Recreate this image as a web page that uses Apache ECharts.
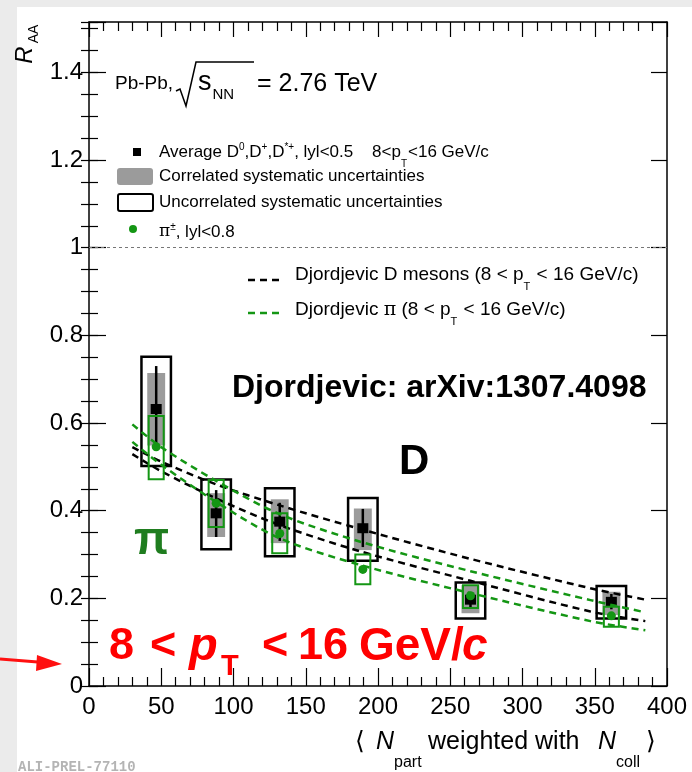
<!DOCTYPE html>
<html>
<head>
<meta charset="utf-8">
<script src="https://cdn.jsdelivr.net/npm/echarts@6/dist/echarts.min.js"></script>
<style>
  html, body { margin: 0; padding: 0; background: #fff; }
  #chart { width: 692px; height: 772px; }
</style>
</head>
<body>
<div id="chart"></div>
<script>
// <Npart> weighted with Ncoll, one entry per centrality class
const npart = [46.5, 88, 132, 189.5, 264, 361.5];

// average D0, D+, D*+ RAA (8 < pT < 16 GeV/c)
const dRaa    = [0.632, 0.394, 0.375, 0.360, 0.197, 0.192];
const dStatLo = [0.538, 0.340, 0.331, 0.317, 0.180, 0.175];
const dStatHi = [0.730, 0.447, 0.418, 0.404, 0.213, 0.210];
const dCorrLo = [0.549, 0.340, 0.326, 0.310, 0.166, 0.162];
const dCorrHi = [0.714, 0.440, 0.426, 0.405, 0.230, 0.215];
const dUncLo  = [0.502, 0.312, 0.296, 0.286, 0.154, 0.154];
const dUncHi  = [0.751, 0.471, 0.451, 0.429, 0.236, 0.228];

// charged pions |y| < 0.8
const piRaa   = [0.546, 0.417, 0.348, 0.266, 0.206, 0.160];
const piSysLo = [0.472, 0.363, 0.303, 0.232, 0.178, 0.135];
const piSysHi = [0.616, 0.470, 0.394, 0.300, 0.230, 0.181];

// Djordjevic model bands
const modelX = [30, 50, 88, 132, 189, 264, 347, 385];
const djDHi  = [0.545, 0.512, 0.460, 0.412, 0.357, 0.290, 0.223, 0.197];
const djDLo  = [0.529, 0.490, 0.428, 0.367, 0.306, 0.240, 0.170, 0.148];
const djPiHi = [0.597, 0.545, 0.468, 0.392, 0.328, 0.262, 0.196, 0.168];
const djPiLo = [0.557, 0.505, 0.420, 0.337, 0.275, 0.212, 0.148, 0.127];

const xRange = [0, 400];
const yRange = [0, 1.515];

const FF = 'Liberation Sans, Arial, Helvetica, sans-serif';
const GREEN = '#149614';
const GRAY = '#9b9b9b';
const RED = '#ff0000';

const chart = echarts.init(document.getElementById('chart'));

function box(api, x, hw, lo, hi) {
  const p0 = api.coord([x - hw, hi]);
  const p1 = api.coord([x + hw, lo]);
  return { x: p0[0], y: p0[1], width: p1[0] - p0[0], height: p1[1] - p0[1] };
}

function renderD(params, api) {
  const x = api.value(0);
  const c = api.coord([x, api.value(1)]);
  const s0 = api.coord([x, api.value(2)]);
  const s1 = api.coord([x, api.value(3)]);
  return {
    type: 'group',
    children: [
      { type: 'rect', shape: box(api, x, 6.2, api.value(4), api.value(5)), style: { fill: GRAY } },
      { type: 'rect', shape: box(api, x, 10.2, api.value(6), api.value(7)),
        style: { fill: 'none', stroke: '#000', lineWidth: 2.5 } },
      { type: 'line', shape: { x1: s0[0], y1: s0[1], x2: s1[0], y2: s1[1] },
        style: { stroke: '#000', lineWidth: 2.5 } },
      { type: 'rect', shape: { x: c[0] - 5.5, y: c[1] - 5, width: 11, height: 10 }, style: { fill: '#000' } }
    ]
  };
}

function renderPi(params, api) {
  const x = api.value(0);
  const c = api.coord([x, api.value(1)]);
  return {
    type: 'group',
    children: [
      { type: 'rect', shape: box(api, x, 5.2, api.value(2), api.value(3)),
        style: { fill: 'none', stroke: GREEN, lineWidth: 2 } },
      { type: 'circle', shape: { cx: c[0], cy: c[1], r: 4.5 }, style: { fill: GREEN } }
    ]
  };
}

const dRows = npart.map((x, i) => [x, dRaa[i], dStatLo[i], dStatHi[i], dCorrLo[i], dCorrHi[i], dUncLo[i], dUncHi[i]]);
const piRows = npart.map((x, i) => [x, piRaa[i], piSysLo[i], piSysHi[i]]);

function modelLine(name, ys, color, extra) {
  return Object.assign({
    name: name,
    type: 'line',
    data: modelX.map((x, i) => [x, ys[i]]),
    smooth: 0.3,
    showSymbol: false,
    silent: true,
    z: 3,
    lineStyle: { color: color, width: 2.5, type: [7, 5] }
  }, extra || {});
}

const tickLab = { color: '#000', fontFamily: FF, fontSize: 24 };
const frame = { show: true, onZero: false, lineStyle: { color: '#000', width: 1.5 } };

function xAx(pos, major, minor, labels) {
  return {
    type: 'value', position: pos, min: xRange[0], max: xRange[1], interval: 50,
    axisLine: frame,
    axisTick: { inside: true, length: major, lineStyle: { color: '#000', width: 1.2 } },
    minorTick: { show: true, splitNumber: 5, length: minor, lineStyle: { color: '#000', width: 1.2 } },
    axisLabel: labels ? Object.assign({ margin: 9 }, tickLab) : { show: false },
    splitLine: { show: false }
  };
}

function yAx(pos, step, len, line, labels) {
  return {
    type: 'value', position: pos, min: yRange[0], max: yRange[1], interval: step,
    axisLine: line ? frame : { show: false },
    axisTick: { inside: true, length: len, lineStyle: { color: '#000', width: 1.2 } },
    axisLabel: labels ? Object.assign({
      margin: 6,
      formatter: v => Math.abs(v * 5 - Math.round(v * 5)) < 1e-6 ? String(Math.round(v * 10) / 10) : ''
    }, tickLab) : { show: false },
    splitLine: { show: false }
  };
}

function txt(x, y, text, size, extra) {
  return {
    type: 'text', x: x, y: y, silent: true, z: 100,
    style: Object.assign({ text: text, fontSize: size, fontFamily: FF, fill: '#000', verticalAlign: 'middle' }, extra || {})
  };
}

const sup = { fontSize: 10, fontFamily: FF, padding: [0, 0, 10, 0] };
const sub = { fontSize: 10, fontFamily: FF, padding: [24, 1, 0, 0] };
const leg = { fontSize: 17, fontFamily: FF };
const serif = { fontSize: 17, fontFamily: 'DejaVu Serif, Liberation Serif, serif' };
const leg2 = { fontSize: 19, fontFamily: FF };
const sub2 = { fontSize: 11, fontFamily: FF, padding: [24, 1, 0, 0] };
const serif2 = { fontSize: 19, fontFamily: 'DejaVu Serif, Liberation Serif, serif' };

const option = {
  animation: false,
  backgroundColor: '#fff',
  grid: { left: 89, top: 22, width: 578, height: 664 },
  xAxis: [xAx('bottom', 18, 9, true), xAx('top', 15, 9, false)],
  yAxis: [
    yAx('left', 0.2, 17, true, true),
    yAx('left', 0.05, 9, false, false),
    yAx('right', 0.2, 16, true, false),
    yAx('right', 0.05, 8, false, false)
  ],
  series: [
    {
      name: 'D mesons', type: 'custom', renderItem: renderD, data: dRows, z: 2,
      encode: { x: 0, y: 1 }, silent: true
    },
    modelLine('Djordjevic D high', djDHi, '#000', {
      markLine: {
        silent: true, symbol: 'none', label: { show: false },
        lineStyle: { color: '#777', width: 1, type: [3, 3] },
        data: [{ yAxis: 1 }]
      }
    }),
    modelLine('Djordjevic D low', djDLo, '#000'),
    modelLine('Djordjevic pi high', djPiHi, GREEN),
    modelLine('Djordjevic pi low', djPiLo, GREEN),
    {
      name: 'pions', type: 'custom', renderItem: renderPi, data: piRows, z: 4,
      encode: { x: 0, y: 1 }, silent: true
    }
  ],
  graphic: [
    // frame of the slide
    { type: 'rect', shape: { x: 0, y: 0, width: 17, height: 772 }, style: { fill: '#ebebeb' }, silent: true, z: -1 },
    { type: 'rect', shape: { x: 0, y: 0, width: 692, height: 7 }, style: { fill: '#ebebeb' }, silent: true, z: -1 },

    // y axis title
    Object.assign(txt(25, 55, 'R', 24, { align: 'center', fontStyle: 'italic' }), { rotation: Math.PI / 2 }),
    Object.assign(txt(34, 34, 'AA', 14, { align: 'center' }), { rotation: Math.PI / 2 }),

    // x axis title
    txt(355, 742, '\u27E8', 25, { fontFamily: 'DejaVu Sans, sans-serif' }),
    txt(376, 742, 'N', 25, { fontStyle: 'italic' }),
    txt(394, 763, 'part', 16),
    txt(428, 742, 'weighted with', 25),
    txt(598, 742, 'N', 25, { fontStyle: 'italic' }),
    txt(616, 763, 'coll', 16),
    txt(646, 742, '\u27E9', 25, { fontFamily: 'DejaVu Sans, sans-serif' }),

    // system
    txt(115, 84, 'Pb-Pb,', 19),
    { type: 'polyline', silent: true, z: 100, shape: { points: [[176, 91], [180, 89], [186, 106], [196, 62], [254, 62]] },
      style: { stroke: '#000', lineWidth: 1.5, fill: 'none' } },
    txt(198, 83, '{m|s}{s|NN}', 20, { rich: { m: { fontSize: 27, fontFamily: FF }, s: { fontSize: 15, fontFamily: FF, padding: [24, 0, 0, 1] } } }),
    txt(257, 84, '= 2.76 TeV', 25),

    // legend
    { type: 'rect', silent: true, z: 100, shape: { x: 133, y: 148, width: 8, height: 8 }, style: { fill: '#000' } },
    txt(159, 152, '{t|Average D}{u|0}{t|,D}{u|+}{t|,D}{u|*+}{t|, lyl<0.5    8<p}{d|T}{t|<16 GeV/c}', 17,
      { rich: { t: leg, u: sup, d: sub } }),
    { type: 'rect', silent: true, z: 100, shape: { x: 117, y: 168, width: 36, height: 17, r: 3 }, style: { fill: GRAY } },
    txt(159, 176, 'Correlated systematic uncertainties', 17),
    { type: 'rect', silent: true, z: 100, shape: { x: 118, y: 194, width: 35, height: 17, r: 2 },
      style: { fill: 'none', stroke: '#000', lineWidth: 2 } },
    txt(159, 202, 'Uncorrelated systematic uncertainties', 17),
    { type: 'circle', silent: true, z: 100, shape: { cx: 133, cy: 229, r: 4 }, style: { fill: GREEN } },
    txt(159, 232, '{p|\u03C0}{u|\u00B1}{t|, lyl<0.8}', 17, { rich: { t: leg, u: sup, p: serif } }),

    { type: 'line', silent: true, z: 100, shape: { x1: 248, y1: 280, x2: 282, y2: 280 },
      style: { stroke: '#000', lineWidth: 2.5, lineDash: [7, 5] } },
    txt(295, 275, '{t|Djordjevic D mesons (8 < p}{d|T}{t| < 16 GeV/c)}', 19, { rich: { t: leg2, d: sub2 } }),
    { type: 'line', silent: true, z: 100, shape: { x1: 248, y1: 313, x2: 282, y2: 313 },
      style: { stroke: GREEN, lineWidth: 2.5, lineDash: [7, 5] } },
    txt(295, 310, '{t|Djordjevic }{p|\u03C0}{t| (8 < p}{d|T}{t| < 16 GeV/c)}', 19, { rich: { t: leg2, p: serif2, d: sub2 } }),

    // annotations
    txt(232, 388, 'Djordjevic: arXiv:1307.4098', 32, { fontWeight: 'bold' }),
    txt(399, 462, 'D', 42, { fontWeight: 'bold' }),
    txt(134, 541, '\u03C0', 46, { fontWeight: 'bold', fill: '#1f7d1f' }),

    txt(109, 647, '8', 45, { fontWeight: 'bold', fill: RED }),
    txt(150, 647, '<', 45, { fontWeight: 'bold', fill: RED }),
    txt(189, 647, 'p', 47, { fontWeight: 'bold', fontStyle: 'italic', fill: RED }),
    txt(221, 667, 'T', 29, { fontWeight: 'bold', fill: RED }),
    txt(262, 647, '<', 45, { fontWeight: 'bold', fill: RED }),
    txt(298, 647, '16', 45, { fontWeight: 'bold', fill: RED }),
    txt(359, 647, 'GeV/', 46, { fontWeight: 'bold', fill: RED }),
    txt(462, 647, 'c', 46, { fontWeight: 'bold', fontStyle: 'italic', fill: RED }),

    // arrow
    { type: 'line', silent: true, z: 100, shape: { x1: 0, y1: 659, x2: 44, y2: 662.5 },
      style: { stroke: '#ff1010', lineWidth: 3 } },
    { type: 'polygon', silent: true, z: 100, shape: { points: [[62, 664], [37, 655], [36, 671]] },
      style: { fill: '#ff1010' } },

    txt(18, 767, 'ALI-PREL-77110', 14, { fontFamily: 'Liberation Mono, DejaVu Sans Mono, monospace', fontWeight: 'bold', fill: '#b4b4b4' })
  ]
};

chart.setOption(option);
</script>
</body>
</html>
